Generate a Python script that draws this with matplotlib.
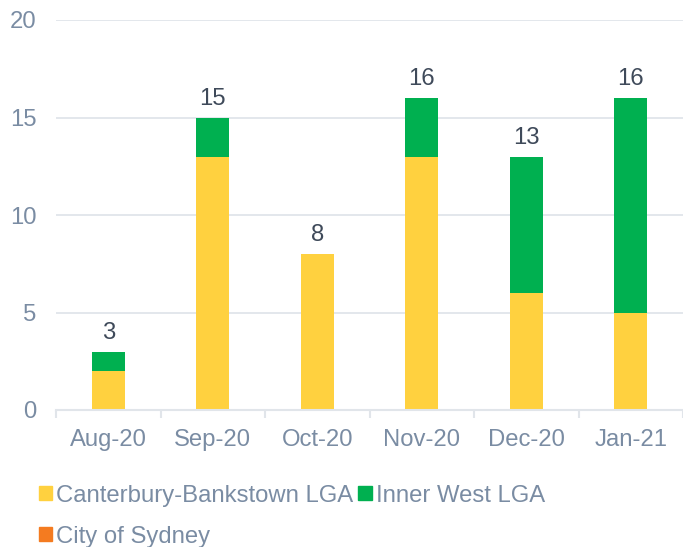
import numpy as np
import matplotlib.pyplot as plt
from matplotlib.patches import Patch

plt.rcParams['font.family'] = ['Liberation Sans', 'DejaVu Sans']

# Data
months = ["Aug-20", "Sep-20", "Oct-20", "Nov-20", "Dec-20", "Jan-21"]
canterbury = [2, 13, 8, 13, 6, 5]
inner_west = [1, 2, 0, 3, 7, 11]
city_sydney = [0, 0, 0, 0, 0, 0]

YELLOW = "#FFD13F"
GREEN = "#00B050"
ORANGE = "#F47B20"
TEXT = "#7A8CA3"
DARK = "#3F4A5A"
GRID = "#E1E5EA"
FS = 17.2

fig = plt.figure(figsize=(6.83, 5.47), dpi=100)
ax = fig.add_axes([56 / 683, 137 / 547, 627 / 683, 390 / 547])

x = np.arange(len(months))
w = 0.32
ax.bar(x, canterbury, w, color=YELLOW, zorder=3)
ax.bar(x, inner_west, w, bottom=canterbury, color=GREEN, zorder=3)
bottom2 = np.array(canterbury) + np.array(inner_west)
ax.bar(x, city_sydney, w, bottom=bottom2, color=ORANGE, zorder=3)

totals = bottom2 + np.array(city_sydney)
for xi, t in zip(x, totals):
    ax.text(xi, t + 0.4, str(t), ha="center", va="bottom", fontsize=FS, color=DARK)

ax.set_xlim(-0.5, len(months) - 0.5)
ax.set_ylim(0, 20)
ax.set_yticks([0, 5, 10, 15, 20])
ax.grid(axis="y", color=GRID, linewidth=1.3, zorder=0)
for s in ["top", "right", "left"]:
    ax.spines[s].set_visible(False)
ax.spines["bottom"].set_color(GRID)
ax.spines["bottom"].set_linewidth(1.5)
ax.spines["bottom"].set_zorder(4)

ax.set_xticks(x)
ax.set_xticklabels(months)
ax.set_xticks(np.arange(-0.5, len(months), 1), minor=True)
ax.tick_params(axis="x", which="major", length=0, pad=14, labelsize=FS, labelcolor=TEXT)
ax.tick_params(axis="x", which="minor", length=6, width=1.5, color=GRID)
ax.tick_params(axis="y", length=0, pad=14, labelsize=FS, labelcolor=TEXT)

handles = [Patch(color=YELLOW, label="Canterbury-Bankstown LGA"),
           Patch(color=ORANGE, label="City of Sydney"),
           Patch(color=GREEN, label="Inner West LGA")]
fig.legend(handles=handles, ncol=2, loc="upper left", bbox_to_anchor=(29 / 683, 1 - 475 / 547),
           frameon=False, fontsize=FS, labelcolor=TEXT, handlelength=0.55, handleheight=0.55,
           handletextpad=0.2, columnspacing=0.2, labelspacing=0.8, borderaxespad=0)

fig.savefig("out.png", dpi=100)
